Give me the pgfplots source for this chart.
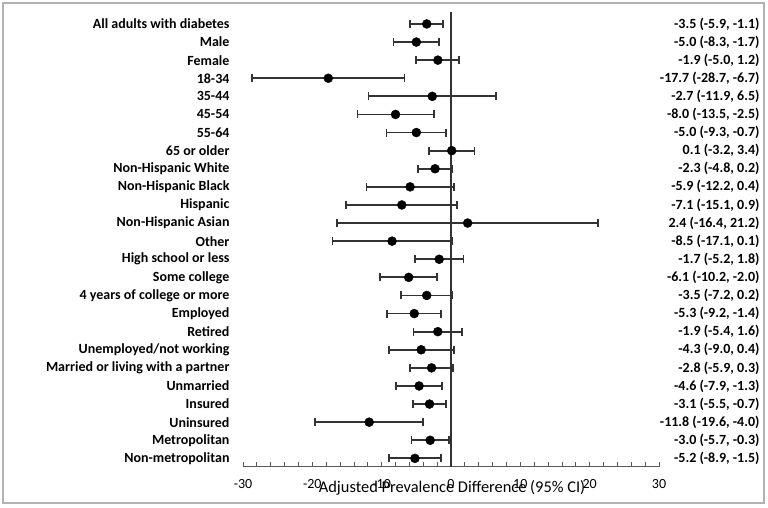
\documentclass[border=0pt]{standalone}
\usepackage{pgfplots}
\usepackage{pgfplotstable}
\pgfplotsset{compat=1.18}
\usepackage{fontspec}
\setmainfont{Carlito}

% estimate and 95% CI, one row per group (y=25 is the top row)
\pgfplotstableread{
y est lo hi
25 -3.5 -5.9 -1.1
24 -5.0 -8.3 -1.7
23 -1.9 -5.0 1.2
22 -17.7 -28.7 -6.7
21 -2.7 -11.9 6.5
20 -8.0 -13.5 -2.5
19 -5.0 -9.3 -0.7
18 0.1 -3.2 3.4
17 -2.3 -4.8 0.2
16 -5.9 -12.2 0.4
15 -7.1 -15.1 0.9
14 2.4 -16.4 21.2
13 -8.5 -17.1 0.1
12 -1.7 -5.2 1.8
11 -6.1 -10.2 -2.0
10 -3.5 -7.2 0.2
9 -5.3 -9.2 -1.4
8 -1.9 -5.4 1.6
7 -4.3 -9.0 0.4
6 -2.8 -5.9 0.3
5 -4.6 -7.9 -1.3
4 -3.1 -5.5 -0.7
3 -11.8 -19.6 -4.0
2 -3.0 -5.7 -0.3
1 -5.2 -8.9 -1.5
}\forest

\definecolor{dgray}{HTML}{333333}

\pgfplotsset{
  forestaxis/.style={
    at={(243pt,40.3pt)}, anchor=south west,
    scale only axis, width=416pt, height=454.7pt,
    xmin=-30, xmax=30, ymin=0.54, ymax=25.66,
    ytick={1,...,25},
    y axis line style={draw=none},
    ytick style={draw=none},
    clip=false,
  },
}

\begin{document}
\begin{tikzpicture}
\useasboundingbox (0pt,0pt) rectangle (768pt,507pt);
\draw[black!30, line width=1.6pt] (3pt,4pt) rectangle (764pt,504pt);

\begin{axis}[
    forestaxis,
    axis x line*=bottom, axis y line*=left,
    x axis line style={-, black!65, line width=1pt},
    xtick={-30,-20,...,30},
    minor x tick num=4,
    xtick pos=bottom,
    tick align=inside,
    major tick length=5pt, minor tick length=5pt,
    x tick style={black!65, line width=0.8pt},
    /pgf/number format/assume math mode=true,
    xticklabel style={font=\fontsize{14}{16}\selectfont, yshift=-9pt},
    xlabel={Adjusted Prevalence Difference (95\% CI)},
    xlabel style={at={(axis description cs:0.5,0)}, anchor=base,
                  yshift=-25.5pt, xshift=1pt, font=\fontsize{16.4}{19}\selectfont},
    yticklabel style={font=\fontsize{14}{16}\selectfont\bfseries, xshift=-10pt},
    yticklabels={Non-metropolitan, Metropolitan, Uninsured, Insured, Unmarried,
      Married or  living with a partner, Unemployed/not working, Retired,
      Employed, 4 years of college  or more, Some college, High school or less,
      Other, Non-Hispanic Asian, Hispanic, Non-Hispanic Black,
      Non-Hispanic White, 65 or older, 55-64, 45-54, 35-44, 18-34,
      Female, Male, All adults with diabetes},
  ]
  % reference line at zero
  \addplot[dgray, line width=1.8pt] coordinates {(0,0.54) (0,25.66)};
  % estimates with 95% CI
  \addplot[black, only marks, mark=*, mark size=4.5pt,
    error bars/.cd, x dir=both, x explicit,
    error mark=|,
    error bar style={dgray, line width=1.8pt},
    error mark options={dgray, mark size=4pt, line width=1.8pt}]
    table[x=est, y=y,
      x error plus expr=\thisrow{hi}-\thisrow{est},
      x error minus expr=\thisrow{est}-\thisrow{lo}] {\forest};
\end{axis}

\begin{axis}[
    forestaxis,
    axis x line=none, axis y line*=right,
    yticklabel pos=right,
    yticklabel style={font=\fontsize{14}{16}\selectfont\bfseries,
                      anchor=east, xshift=104pt},
    yticklabels={{-5.2 (-8.9, -1.5)}, {-3.0 (-5.7, -0.3)}, {-11.8 (-19.6, -4.0)},
      {-3.1 (-5.5, -0.7)}, {-4.6 (-7.9, -1.3)}, {-2.8 (-5.9, 0.3)},
      {-4.3 (-9.0, 0.4)}, {-1.9 (-5.4, 1.6)}, {-5.3 (-9.2, -1.4)},
      {-3.5 (-7.2, 0.2)}, {-6.1 (-10.2, -2.0)}, {-1.7 (-5.2, 1.8)},
      {-8.5 (-17.1, 0.1)}, {2.4 (-16.4, 21.2)}, {-7.1 (-15.1, 0.9)},
      {-5.9 (-12.2, 0.4)}, {-2.3 (-4.8, 0.2)}, {0.1 (-3.2, 3.4)\ },
      {-5.0 (-9.3, -0.7)}, {-8.0 (-13.5, -2.5)}, {-2.7 (-11.9, 6.5)},
      {-17.7 (-28.7, -6.7)}, {-1.9 (-5.0, 1.2)}, {-5.0 (-8.3, -1.7)},
      {-3.5 (-5.9, -1.1)}},
  ]
\end{axis}
\end{tikzpicture}
\end{document}
